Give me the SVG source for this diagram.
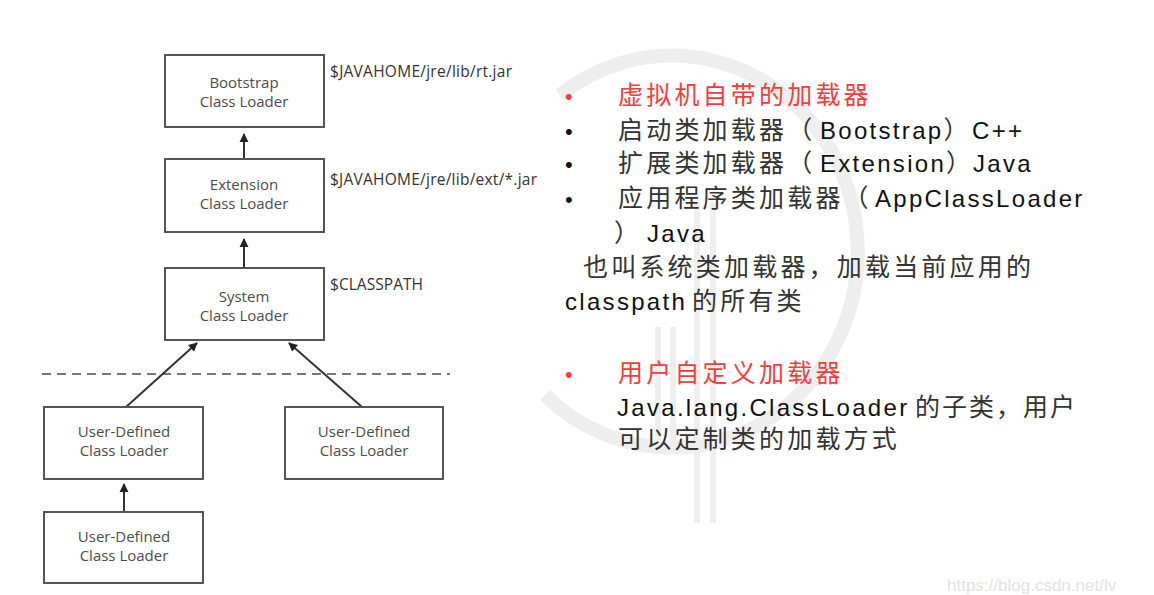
<svg xmlns="http://www.w3.org/2000/svg" width="1154" height="595" viewBox="0 0 1154 595">
<defs>
<style>
.box{fill:#fff;stroke:#555;stroke-width:2}
.bl{font-family:"Open Sans","Liberation Sans",sans-serif;font-size:15px;fill:#4d4d4d;text-anchor:middle}
.path{font-family:"Open Sans","Liberation Sans",sans-serif;font-size:15.5px;fill:#333}
.conn{stroke:#333;stroke-width:2;fill:none}
.c{font-family:"Noto Sans CJK SC","Liberation Sans",sans-serif;font-size:25px;letter-spacing:3.2px;fill:#333}
.l{font-family:"Liberation Sans","Noto Sans CJK SC",sans-serif;font-size:24px;letter-spacing:2.3px;fill:#111}
.b{font-family:"Liberation Sans",sans-serif;font-size:22px;fill:#111}
.r{fill:#ff3a3a}
.wm{fill:none;stroke:#eeeeee}
</style>
<marker id="ah" viewBox="0 0 10 10" refX="9" refY="5" markerWidth="4.5" markerHeight="5" orient="auto" markerUnits="strokeWidth">
<path d="M0,0 L10,5 L0,10 z" fill="#222"/>
</marker>
</defs>
<rect width="1154" height="595" fill="#fff"/>
<g id="background-logo">
<path class="wm" d="M 560 95 A 186 196 0 1 1 545 395" stroke-width="14"/>
<rect x="694" y="203" width="6" height="320" fill="#eeeeee"/>
<rect x="710" y="203" width="6" height="320" fill="#eeeeee"/>
<rect x="655" y="327" width="6" height="118" fill="#eeeeee"/>
<rect x="670" y="327" width="6" height="118" fill="#eeeeee"/>
</g>
<line x1="42" y1="374" x2="450" y2="374" stroke="#777" stroke-width="2" stroke-dasharray="9,6"/>
<g id="connectors">
<line class="conn" x1="244" y1="159" x2="244" y2="134" marker-end="url(#ah)"/>
<line class="conn" x1="244" y1="268" x2="244" y2="239" marker-end="url(#ah)"/>
<line class="conn" x1="126" y1="407" x2="197" y2="343" marker-end="url(#ah)"/>
<line class="conn" x1="362" y1="407" x2="289" y2="343" marker-end="url(#ah)"/>
<line class="conn" x1="124" y1="512" x2="124" y2="484" marker-end="url(#ah)"/>
</g>
<g id="bootstrap">
<rect class="box" x="165" y="55" width="159" height="72"/>
<text class="bl" x="244" y="88">Bootstrap</text>
<text class="bl" x="244" y="107">Class Loader</text>
<text class="path" x="330" y="77" textLength="182" lengthAdjust="spacing">$JAVAHOME/jre/lib/rt.jar</text>
</g>
<g id="extension">
<rect class="box" x="165" y="159" width="159" height="73"/>
<text class="bl" x="244" y="190">Extension</text>
<text class="bl" x="244" y="209">Class Loader</text>
<text class="path" x="330" y="185" textLength="207" lengthAdjust="spacing">$JAVAHOME/jre/lib/ext/*.jar</text>
</g>
<g id="system">
<rect class="box" x="165" y="268" width="159" height="72"/>
<text class="bl" x="244" y="302">System</text>
<text class="bl" x="244" y="321">Class Loader</text>
<text class="path" x="330" y="290" textLength="93" lengthAdjust="spacing">$CLASSPATH</text>
</g>
<g id="user1">
<rect class="box" x="44" y="407" width="159" height="72"/>
<text class="bl" x="124" y="437">User-Defined</text>
<text class="bl" x="124" y="456">Class Loader</text>
</g>
<g id="user2">
<rect class="box" x="285" y="407" width="158" height="72"/>
<text class="bl" x="364" y="437">User-Defined</text>
<text class="bl" x="364" y="456">Class Loader</text>
</g>
<g id="user3">
<rect class="box" x="44" y="512" width="159" height="71"/>
<text class="bl" x="124" y="542">User-Defined</text>
<text class="bl" x="124" y="561">Class Loader</text>
</g>
<g id="notes">
<text class="b r" x="565" y="104">•</text>
<text class="c r" x="618" y="104">虚拟机自带的加载器</text>
<text class="b" x="565" y="139">•</text>
<text y="139"><tspan class="c" x="618">启动类加载器（</tspan><tspan class="l" x="820">Bootstrap</tspan><tspan class="c">）</tspan><tspan class="l" x="972">C++</tspan></text>
<text class="b" x="565" y="172">•</text>
<text y="172"><tspan class="c" x="618">扩展类加载器（</tspan><tspan class="l" x="820">Extension</tspan><tspan class="c">）</tspan><tspan class="l" x="973">Java</tspan></text>
<text class="b" x="565" y="207">•</text>
<text y="207"><tspan class="c" x="618">应用程序类加载器（</tspan><tspan class="l" x="875">AppClassLoader</tspan></text>
<text y="242"><tspan class="c" x="614">）</tspan><tspan class="l" x="647">Java</tspan></text>
<text class="c" x="583" y="276">也叫系统类加载器，加载当前应用的</text>
<text y="310"><tspan class="l" x="565">classpath</tspan><tspan class="c" x="692">的所有类</tspan></text>
<text class="b r" x="565" y="382">•</text>
<text class="c r" x="618" y="382">用户自定义加载器</text>
<text y="416"><tspan class="l" x="617">Java.lang.ClassLoader</tspan><tspan class="c" x="915" style="letter-spacing:2px">的子类，用户</tspan></text>
<text class="c" x="618" y="448">可以定制类的加载方式</text>
</g>
<text x="947" y="591" font-family="Liberation Sans, sans-serif" font-size="17px" fill="#e2e2e2">https://blog.csdn.net/lv</text>
</svg>
